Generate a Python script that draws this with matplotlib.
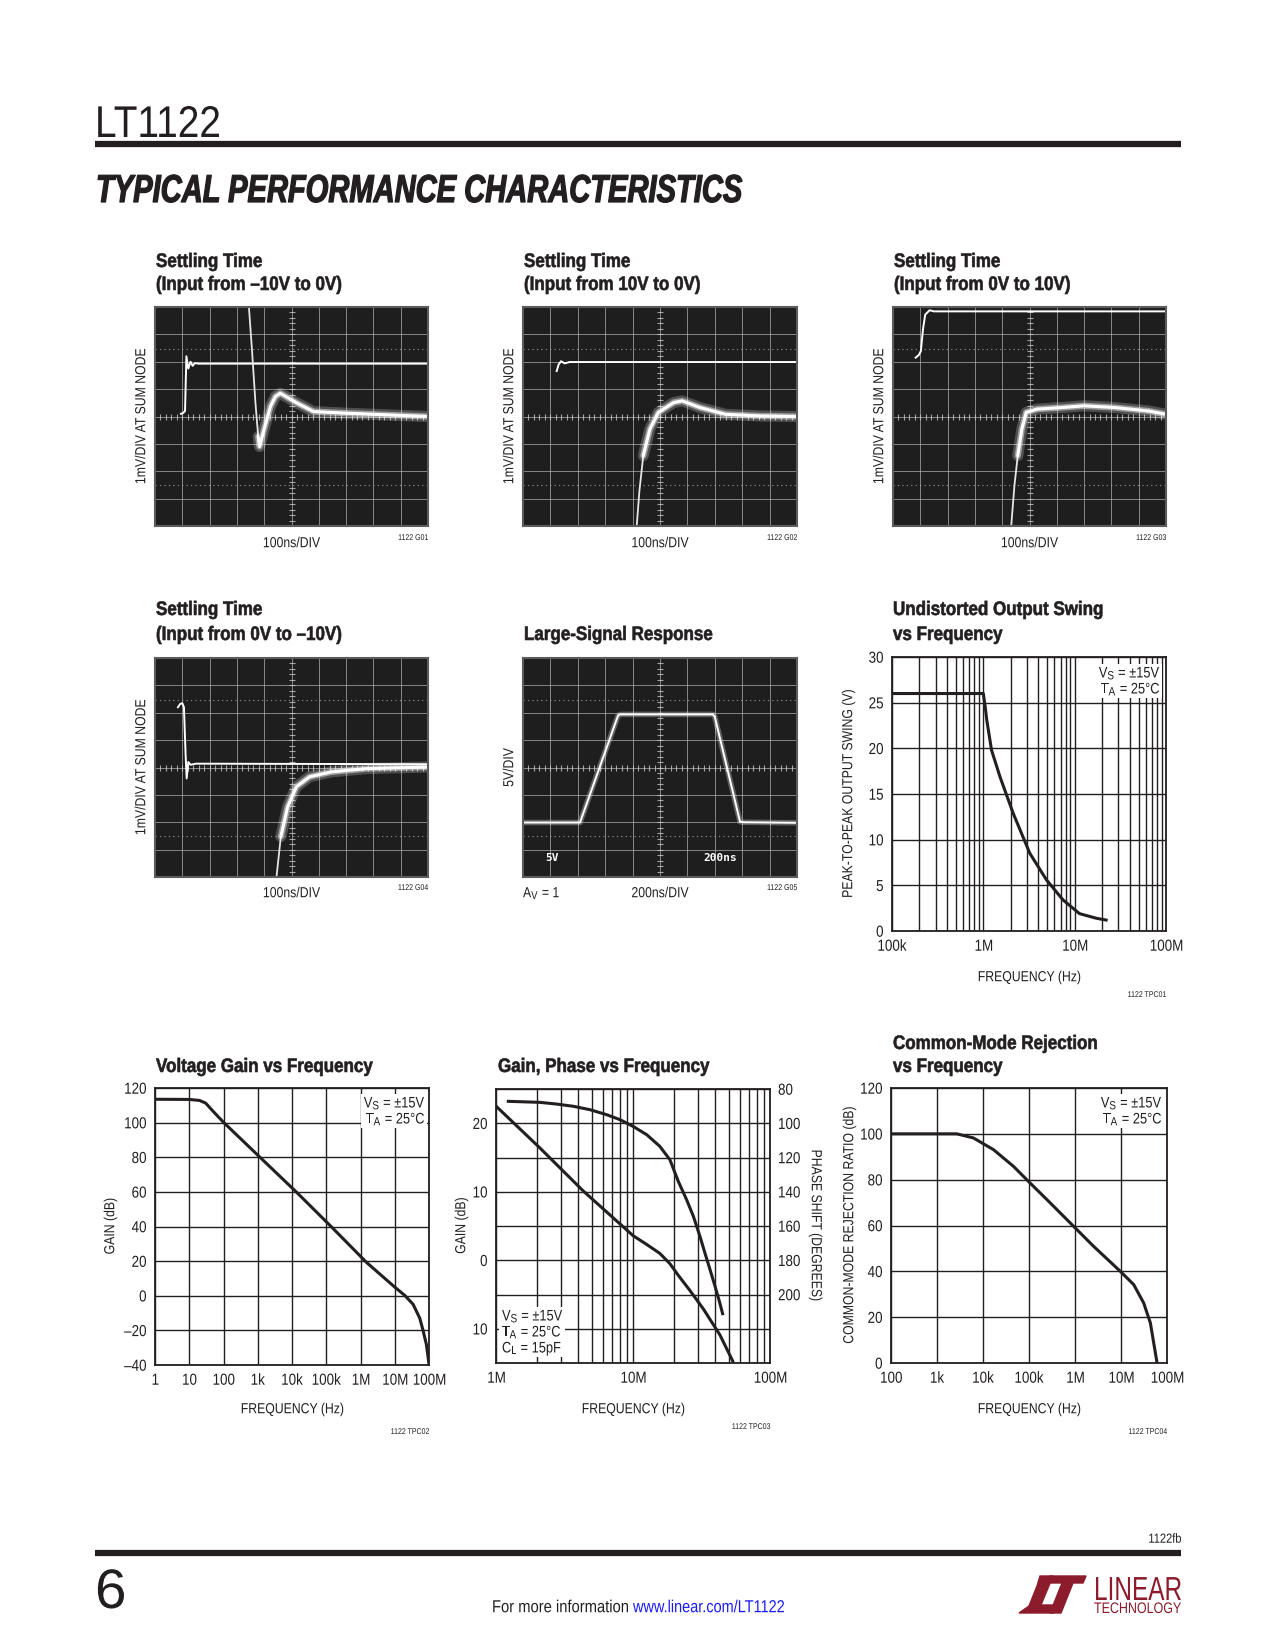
import numpy as np
import matplotlib
matplotlib.use('Agg')
import matplotlib.pyplot as plt
import matplotlib.font_manager as fm
from matplotlib.patches import Polygon, PathPatch, Rectangle
from matplotlib.textpath import TextPath
from matplotlib.transforms import Affine2D
from matplotlib.ticker import LogLocator, NullLocator, NullFormatter

# ---------------- data ----------------
# scope traces, in screen divisions (x 0..10, y 0..8)
st1FastX = [0.95, 1.02, 1.1, 1.15, 1.22, 1.3, 1.38, 1.46, 1.6, 10.0]
st1FastY = [4.1, 4.12, 4.2, 6.2, 5.75, 6.0, 5.85, 5.95, 5.93, 5.93]
st1SlowX = [3.44, 3.56, 3.68, 3.78, 3.83, 3.99, 4.23, 4.41, 4.59, 5.2, 5.81, 7.02, 10.0]
st1SlowY = [8.0, 6.32, 4.49, 3.27, 2.9, 3.51, 4.37, 4.73, 4.85, 4.49, 4.18, 4.12, 4.0]

st2FastX = [1.23, 1.3, 1.39, 1.52, 1.7, 10.0]
st2FastY = [5.66, 5.9, 6.02, 5.94, 5.99, 5.99]
st2SlowX = [4.15, 4.25, 4.39, 4.63, 4.94, 5.5, 5.81, 6.45, 7.39, 8.66, 10.0]
st2SlowY = [0.0, 1.3, 2.57, 3.54, 4.15, 4.51, 4.57, 4.33, 4.08, 4.02, 4.0]

st3FastX = [0.83, 0.95, 1.02, 1.1, 1.18, 1.34, 1.5, 10.0]
st3FastY = [6.15, 6.25, 6.39, 7.2, 7.72, 7.88, 7.84, 7.84]
st3SlowX = [4.33, 4.45, 4.57, 4.72, 4.88, 5.28, 6.22, 7.0, 8.1, 9.37, 10.0]
st3SlowY = [0.0, 1.5, 2.57, 3.54, 4.15, 4.27, 4.33, 4.39, 4.33, 4.2, 4.08]

st4FastX = [0.84, 0.92, 1.0, 1.06, 1.12, 1.16, 1.22, 1.3, 1.5, 10.0]
st4FastY = [6.2, 6.32, 6.35, 6.2, 4.5, 3.6, 4.2, 4.1, 4.14, 4.12]
st4SlowX = [4.45, 4.61, 4.86, 5.18, 5.66, 6.46, 7.75, 10.0]
st4SlowY = [0.0, 1.48, 2.57, 3.3, 3.66, 3.84, 3.96, 4.02]

lsX = [0.0, 2.08, 3.47, 3.55, 6.93, 7.0, 7.92, 8.05, 10.0]
lsY = [1.99, 1.99, 5.9, 5.94, 5.94, 5.85, 2.02, 2.0, 1.98]

# undistorted output swing
swingF = [1e5, 1e6, 1.05e6, 1.09e6, 1.23e6, 1.52e6, 2.12e6, 3.23e6, 4.91e6, 7.46e6, 11.3e6, 17.2e6, 22.1e6]
swingV = [26.0, 26.0, 24.5, 23.1, 19.8, 16.9, 12.9, 8.5, 5.6, 3.4, 1.9, 1.4, 1.2]

# voltage gain vs frequency
vgF = [1, 10, 20, 30, 50, 100, 1.19e3, 13.9e3, 145e3, 1.51e6, 10e6, 19.6e6, 34.5e6, 53.8e6, 67e6, 83.6e6, 100e6]
vgDB = [113.5, 113.4, 112.8, 111.3, 106.5, 100.2, 79.8, 59.6, 39.6, 19.2, 5.0, 0.2, -5, -13, -20, -28, -39.5]

# gain, phase vs frequency
gpF = [1.0e6, 2.09e6, 4.34e6, 10e6, 12.6e6, 15.7e6, 18.6e6, 21.4e6, 26e6, 32.6e6, 43.1e6, 53.4e6]
gpGain = [22.5, 16.4, 10.1, 3.6, 2.3, 1.0, -0.5, -2.2, -4.4, -7.1, -10.9, -14.7]
phF = [1.23e6, 2.09e6, 2.77e6, 3.67e6, 4.86e6, 6.42e6, 8.03e6, 10e6, 12.6e6, 15.7e6, 18.6e6,
       21.4e6, 24.6e6, 27.6e6, 30.8e6, 33.5e6, 36.5e6, 39.7e6, 42.7e6, 45.1e6]
phDeg = [87.2, 87.8, 88.8, 90.1, 92.1, 95.0, 97.9, 101.8, 106.7, 113.5, 121.3,
         133.9, 144.6, 154.4, 166.0, 175.8, 185.5, 195.2, 204.0, 211.2]

# common mode rejection
cmF = [100, 2.69e3, 6.2e3, 16.9e3, 46e3, 106e3, 245e3, 789e3, 2.54e6, 9.67e6, 18.9e6, 31.1e6, 43.5e6, 60.8e6]
cmDB = [100, 100, 98.2, 93.1, 85.8, 78.5, 71.3, 61.1, 50.9, 40, 34.2, 26.2, 17.5, 0]

# tick labels
swingTicks = ['100k', '1M', '10M', '100M']
swingYTicks = ['0', '5', '10', '15', '20', '25', '30']
vgTicks = ['1', '10', '100', '1k', '10k', '100k', '1M', '10M', '100M']
vgYTicks = ['\u201340', '\u201320', '0', '20', '40', '60', '80', '100', '120']
gpTicks = ['1M', '10M', '100M']
gainYTicks = ['20', '10', '0', '10']
phaseYTicks = ['80', '100', '120', '140', '160', '180', '200']
cmTicks = ['100', '1k', '10k', '100k', '1M', '10M', '100M']
cmYTicks = ['0', '20', '40', '60', '80', '100', '120']

# ---------------- fonts ----------------
fontNames = {f.name for f in fm.fontManager.ttflist}
if 'Liberation Sans Narrow' in fontNames:
    baseFont, squeeze = 'Liberation Sans Narrow', 1.0
elif 'Liberation Sans' in fontNames:
    baseFont, squeeze = 'Liberation Sans', 0.84
else:
    baseFont, squeeze = 'DejaVu Sans', 0.78
plt.rcParams['font.family'] = [baseFont, 'DejaVu Sans']
ink = '#231f20'

# ---------------- page ----------------
W, H = 1275, 1650
fig = plt.figure(figsize=(W / 100, H / 100), dpi=100, facecolor='white')

# transparent overlay holding all the lettering, in pixels from the top left
page = fig.add_axes([0, 0, 1, 1], zorder=10)
page.set_xlim(0, W)
page.set_ylim(H, 0)
page.axis('off')
page.patch.set_visible(False)


def box(x0, y0, x1, y1):
    """axes placed by pixel corners (y measured from the top)"""
    return fig.add_axes([x0 / W, 1 - y1 / H, (x1 - x0) / W, (y1 - y0) / H])


def ptext(x, y, s, size=10, weight='normal', style='normal', ha='left', va='center',
          rot=0, color=ink, sx=None, width=None, stroke=0):
    """condensed lettering: the glyph outlines squeezed sideways"""
    fp = fm.FontProperties(family=[baseFont, 'DejaVu Sans'], weight=weight, style=style)
    em = size * 100 / 72.0
    tp = TextPath((0, 0), s, size=em, prop=fp)
    natural = tp.get_extents().x1
    if width is not None:
        k = width / natural
    else:
        k = squeeze if sx is None else sx * squeeze
    dx = {'left': 0, 'center': -natural / 2, 'right': -natural}[ha]
    cap = 0.716 * em
    dy = {'baseline': 0, 'center': -cap / 2, 'top': -cap}[va]
    tr = Affine2D().translate(dx, dy).scale(k, 1).rotate_deg(rot).scale(1, -1).translate(x, y)
    page.add_patch(PathPatch(tr.transform_path(tp), facecolor=color,
                             edgecolor=color if stroke else 'none', lw=stroke,
                             joinstyle='round'))
    return natural * k


def textwidth(s, size, weight='normal'):
    fp = fm.FontProperties(family=[baseFont, 'DejaVu Sans'], weight=weight)
    return TextPath((0, 0), s, size=size * 100 / 72.0, prop=fp).get_extents().x1 * squeeze


def note(x, y, lines, size=11, ha='right', step=16):
    """lines of (letter, subscript, rest) on a white patch"""
    subSize = size * 0.78
    widths = []
    for main, sub, rest in lines:
        widths.append(textwidth(main, size) + textwidth(sub, subSize) + 1 + textwidth(rest, size))
    wmax = max(widths)
    left = x - wmax if ha == 'right' else x
    capPx = 0.716 * size * 100 / 72.0
    page.add_patch(Rectangle((left - 3, y - capPx / 2 - 3), wmax + 6,
                             step * (len(lines) - 1) + capPx + 8,
                             facecolor='white', edgecolor='none'))
    for i, (main, sub, rest) in enumerate(lines):
        yy = y + i * step
        xx = x - widths[i] if ha == 'right' else x
        xx += ptext(xx, yy, main, size=size)
        xx += ptext(xx, yy + capPx * 0.28, sub, size=subSize) + 1
        ptext(xx, yy, rest, size=size)


# header
ptext(95, 137, 'LT1122', size=32, va='baseline', width=124)
page.plot([95, 1181], [144, 144], color=ink, lw=4.5, solid_capstyle='butt')
ptext(96, 202, 'TYPICAL PERFORMANCE CHARACTERISTICS', size=28, weight='bold',
      style='italic', va='baseline', width=646, stroke=0.9)

# footer
ptext(1181, 1538, '1122fb', size=9.5, ha='right')
page.plot([95, 1181], [1553, 1553], color=ink, lw=4.5, solid_capstyle='butt')
ptext(95, 1608, '6', size=40, va='baseline', width=29)
ptext(628, 1606, 'For more information', size=12.5, ha='right', width=136)
ptext(633, 1606, 'www.linear.com/LT1122', size=12.5, ha='left', width=151, color='#1a1aff')

# logo
logoRed = '#8c1c2c'
page.add_patch(Polygon([(1040, 1576), (1053, 1576), (1041, 1605), (1057, 1605),
                        (1053, 1613), (1019, 1613), (1029, 1606), (1037, 1586)],
                       closed=True, color=logoRed, zorder=3))
page.add_patch(Polygon([(1050, 1576), (1086, 1576), (1083, 1583), (1073, 1583),
                        (1061, 1613), (1050, 1613), (1062, 1583), (1047, 1583)],
                       closed=True, color=logoRed, zorder=3))
ptext(1094, 1600, 'LINEAR', size=24, va='baseline', width=87, color=logoRed)
ptext(1094, 1613, 'TECHNOLOGY', size=11, va='baseline', width=87, color=logoRed)


# ---------------- scope photos ----------------
def scope(rect, fastX, fastY, slowX=None, slowY=None, glowFrom=0.0, fastGlow=False):
    ax = box(*rect)
    ax.set_facecolor('#1e1e1e')
    ax.set_xlim(0, 10)
    ax.set_ylim(0, 8)
    ax.set_xticks([])
    ax.set_yticks([])
    for s in ax.spines.values():
        s.set_color('#5c5c5c')
        s.set_linewidth(1.5)
    for gx in range(1, 10):
        ax.axvline(gx, color='#b4b4b4', lw=0.7, alpha=0.7)
    for gy in range(1, 8):
        ax.axhline(gy, color='#b4b4b4', lw=0.7, alpha=0.7)
    ax.axhline(6.45, color='#b4b4b4', lw=0.8, ls=(0, (1, 3)), alpha=0.8)
    ax.axhline(1.5, color='#b4b4b4', lw=0.8, ls=(0, (1, 3)), alpha=0.8)
    # small marks along the centre lines
    marks = np.arange(0.2, 10, 0.2)
    ax.plot(marks, np.full(marks.size, 4.0), ls='none', marker='|', ms=4,
            mew=0.8, color='#c8c8c8', alpha=0.8)
    marksY = np.arange(0.2, 8, 0.2)
    ax.plot(np.full(marksY.size, 5.0), marksY, ls='none', marker='_', ms=4,
            mew=0.8, color='#c8c8c8', alpha=0.8)
    # traces
    if fastGlow:
        ax.plot(fastX, fastY, color='white', lw=4, alpha=0.3)
    ax.plot(fastX, fastY, color='white', lw=1.4)
    if slowX is not None:
        # fast slewing part stays faint and thin, the settling tail glows
        ax.plot(slowX, slowY, color='#e6e6e6', lw=1.3)
        gx = [x for x in slowX if x >= glowFrom]
        gy = slowY[len(slowX) - len(gx):]
        glowKw = dict(color='white', solid_joinstyle='round', solid_capstyle='round')
        ax.plot(gx, gy, lw=8, alpha=0.22, **glowKw)
        ax.plot(gx, gy, lw=4.5, alpha=0.45, **glowKw)
        ax.plot(gx, gy, lw=2.2, **glowKw)
    return ax


titleSize = 14
titleKw = dict(size=titleSize, weight='bold', sx=1.04, stroke=0.45)
labSize = 10.5
idSize = 6

# row 1
scopeRects = [(155, 307, 428, 526), (523, 307, 797, 526), (893, 307, 1166, 526)]
scope(scopeRects[0], st1FastX, st1FastY, st1SlowX, st1SlowY, glowFrom=3.78)
scope(scopeRects[1], st2FastX, st2FastY, st2SlowX, st2SlowY, glowFrom=4.39)
scope(scopeRects[2], st3FastX, st3FastY, st3SlowX, st3SlowY, glowFrom=4.57)
row1Second = ['(Input from \u201310V to 0V)', '(Input from 10V to 0V)', '(Input from 0V to 10V)']
for i, r in enumerate(scopeRects):
    ptext(r[0] + 1, 260, 'Settling Time', **titleKw)
    ptext(r[0] + 1, 283, row1Second[i], **titleKw)
    ptext(r[0] - 15, (r[1] + r[3]) / 2, '1mV/DIV AT SUM NODE', size=labSize, rot=90, ha='center')
    ptext((r[0] + r[2]) / 2, 542, '100ns/DIV', size=labSize, ha='center')
    ptext(r[2], 537, '1122 G0%d' % (i + 1), size=idSize, ha='right')

# row 2 scopes
r4 = (155, 658, 428, 877)
scope(r4, st4FastX, st4FastY, st4SlowX, st4SlowY, glowFrom=4.61)
ptext(r4[0] + 1, 608, 'Settling Time', **titleKw)
ptext(r4[0] + 1, 633, '(Input from 0V to \u201310V)', **titleKw)
ptext(r4[0] - 15, (r4[1] + r4[3]) / 2, '1mV/DIV AT SUM NODE', size=labSize, rot=90, ha='center')
ptext((r4[0] + r4[2]) / 2, 892, '100ns/DIV', size=labSize, ha='center')
ptext(r4[2], 887, '1122 G04', size=idSize, ha='right')

r5 = (523, 658, 797, 877)
ax5 = scope(r5, lsX, lsY, fastGlow=True)
ax5.text(0.8, 0.69, '5V', color='white', fontsize=8, fontweight='bold', va='center',
         family='DejaVu Sans Mono')
ax5.text(6.6, 0.69, '200ns', color='white', fontsize=8, fontweight='bold', va='center',
         family='DejaVu Sans Mono')
ptext(r5[0] + 1, 633, 'Large-Signal Response', **titleKw)
ptext(r5[0] - 15, (r5[1] + r5[3]) / 2, '5V/DIV', size=labSize, rot=90, ha='center')
xx = r5[0] + ptext(r5[0], 892, 'A', size=labSize)
xx += ptext(xx, 895, 'V', size=labSize * 0.78) + 1
ptext(xx, 892, ' = 1', size=labSize)
ptext((r5[0] + r5[2]) / 2, 892, '200ns/DIV', size=labSize, ha='center')
ptext(r5[2], 887, '1122 G05', size=idSize, ha='right')


# ---------------- log frequency plots ----------------
tickSize = 11.5


def freq_chart(rect, decades, ylim, ystep, xlabels, ylabels, ylabelVals=None, minor=True):
    ax = box(*rect)
    ax.set_xscale('log')
    ax.set_xlim(10.0 ** decades[0], 10.0 ** decades[1])
    ax.set_ylim(ylim)
    ax.set_xticks([10.0 ** k for k in range(decades[0], decades[1] + 1)])
    ax.set_yticks(np.arange(ylim[0], ylim[1] + 0.1, ystep))
    if minor:
        ax.xaxis.set_minor_locator(LogLocator(base=10, subs=range(2, 10), numticks=50))
    else:
        ax.xaxis.set_minor_locator(NullLocator())
    ax.xaxis.set_minor_formatter(NullFormatter())
    ax.grid(True, which='both', color=ink, lw=1.0)
    ax.set_axisbelow(True)
    ax.tick_params(which='both', length=0, labelbottom=False, labelleft=False)
    for s in ax.spines.values():
        s.set_linewidth(1.3)
        s.set_color(ink)
    # tick labels set as lettering on the page
    x0, y0, x1, y1 = rect
    nd = decades[1] - decades[0]
    for i, lab in enumerate(xlabels):
        ptext(x0 + (x1 - x0) * i / nd, y1 + 14, lab, size=tickSize, ha='center')
    if ylabelVals is None:
        ylabelVals = np.arange(ylim[0], ylim[1] + 0.1, ystep)
    for v, lab in zip(ylabelVals, ylabels):
        yy = y1 - (v - ylim[0]) / (ylim[1] - ylim[0]) * (y1 - y0)
        ptext(x0 - 9, yy, lab, size=tickSize, ha='right')
    return ax


noteLines = [('V', 'S', ' = \u00b115V'), ('T', 'A', ' = 25\u00b0C')]

# undistorted output swing
rs = (892, 657, 1166, 931)
axS = freq_chart(rs, (5, 8), (0, 30), 5, swingTicks, swingYTicks)
axS.plot(swingF, swingV, color=ink, lw=2.2)
note(1159, 672, noteLines)
ptext(rs[0] + 1, 608, 'Undistorted Output Swing', **titleKw)
ptext(rs[0] + 1, 633, 'vs Frequency', **titleKw)
ptext(847, (rs[1] + rs[3]) / 2, 'PEAK-TO-PEAK OUTPUT SWING (V)', size=labSize, rot=90, ha='center')
ptext((rs[0] + rs[2]) / 2, 976, 'FREQUENCY (Hz)', size=labSize, ha='center')
ptext(rs[2], 994, '1122 TPC01', size=idSize, ha='right')

# voltage gain
rv = (155, 1088, 429, 1365)
axV = freq_chart(rv, (0, 8), (-40, 120), 20, vgTicks, vgYTicks, minor=False)
axV.plot(vgF, vgDB, color=ink, lw=2.2)
note(424, 1102, noteLines)
ptext(rv[0] + 1, 1065, 'Voltage Gain vs Frequency', **titleKw)
ptext(109, (rv[1] + rv[3]) / 2, 'GAIN (dB)', size=labSize, rot=90, ha='center')
ptext((rv[0] + rv[2]) / 2, 1408, 'FREQUENCY (Hz)', size=labSize, ha='center')
ptext(rv[2], 1431, '1122 TPC02', size=idSize, ha='right')

# gain, phase
rg = (496, 1089, 770, 1363)
axG = freq_chart(rg, (6, 8), (-15, 25), 5, gpTicks, gainYTicks, ylabelVals=[20, 10, 0, -10])
axG.plot(gpF, gpGain, color=ink, lw=2.2)
axP = axG.twinx()
axP.set_ylim(240, 80)
axP.set_yticks([])
axP.plot(phF, phDeg, color=ink, lw=2.2)
for s in axP.spines.values():
    s.set_visible(False)
for i, lab in enumerate(phaseYTicks):
    yy = rg[1] + (rg[3] - rg[1]) * i / 8.0
    ptext(rg[2] + 8, yy, lab, size=tickSize, ha='left')
note(502, 1315, [('V', 'S', ' = \u00b115V'), ('T', 'A', ' = 25\u00b0C'), ('C', 'L', ' = 15pF')],
     ha='left')
ptext(rg[0] + 2, 1065, 'Gain, Phase vs Frequency', **titleKw)
ptext(460, (rg[1] + rg[3]) / 2, 'GAIN (dB)', size=labSize, rot=90, ha='center')
ptext(817, 1225, 'PHASE SHIFT (DEGREES)', size=labSize, rot=270, ha='center')
ptext((rg[0] + rg[2]) / 2, 1408, 'FREQUENCY (Hz)', size=labSize, ha='center')
ptext(751, 1426, '1122 TPC03', size=idSize, ha='center')

# common mode rejection
rc = (891, 1088, 1167, 1363)
axC = freq_chart(rc, (2, 8), (0, 120), 20, cmTicks, cmYTicks, minor=False)
axC.plot(cmF, cmDB, color=ink, lw=2.2)
note(1161, 1102, noteLines)
ptext(rc[0] + 2, 1042, 'Common-Mode Rejection', **titleKw)
ptext(rc[0] + 2, 1065, 'vs Frequency', **titleKw)
ptext(848, (rc[1] + rc[3]) / 2, 'COMMON-MODE REJECTION RATIO (dB)', size=labSize, rot=90, ha='center')
ptext((rc[0] + rc[2]) / 2, 1408, 'FREQUENCY (Hz)', size=labSize, ha='center')
ptext(rc[2], 1431, '1122 TPC04', size=idSize, ha='right')

fig.savefig('out.png', dpi=100, facecolor='white')
